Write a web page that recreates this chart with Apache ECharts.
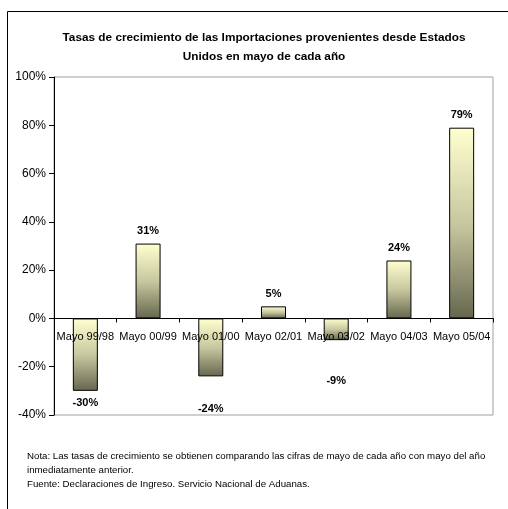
<!DOCTYPE html>
<html>
<head>
    <meta charset="utf-8">
    <title>Importaciones desde Estados Unidos</title>
    <script src="https://cdn.jsdelivr.net/npm/echarts@6/dist/echarts.min.js"></script>
    <style>
        html, body {margin:0;padding:0;background:#fff;}
        #chart {width:508px;height:509px;}
    </style>
</head>
<body>
<div id="chart"></div>
<script>
    // datos
    var categorias = ['Mayo 99/98', 'Mayo 00/99', 'Mayo 01/00', 'Mayo 02/01', 'Mayo 03/02', 'Mayo 04/03', 'Mayo 05/04'];
    var tasas = [-30, 31, -24, 5, -9, 24, 79];
    // desplazamiento vertical de cada etiqueta (como en el original)
    var etiquetaOffset = [2, 0, 22, 0, 30, 0, 0];

    var fuente = 'Liberation Sans, Arial, sans-serif';

    var chart = echarts.init(document.getElementById('chart'));

    var datos = tasas.map(function (v, i) {
        return {
            value: v,
            label: {
                position: v < 0 ? 'bottom' : 'top',
                offset: [0, v < 0 ? etiquetaOffset[i] : -2]
            }
        };
    });

    var option = {
        animation: false,
        backgroundColor: '#fff',
        textStyle: {fontFamily: fuente},
        title: {
            text: 'Tasas de crecimiento de las Importaciones provenientes desde Estados\nUnidos en mayo de cada año',
            left: 259,
            textAlign: 'center',
            top: 23,
            textStyle: {fontSize: 11.8, fontWeight: 'bold', color: '#000', lineHeight: 19, fontFamily: fuente}
        },
        grid: {
            left: 54, right: 15, top: 77, bottom: 94,
            show: true, borderColor: '#a0a0a0', borderWidth: 1
        },
        xAxis: {
            type: 'category',
            data: categorias,
            z: 5,
            axisLine: {onZero: true, lineStyle: {color: '#000', width: 1}},
            axisTick: {show: true, alignWithLabel: false, length: 4, lineStyle: {color: '#000'}},
            // las etiquetas se dibujan junto a la línea del cero, sobre las barras
            axisLabel: {color: '#000', fontSize: 11, margin: -84, interval: 0, fontFamily: fuente}
        },
        yAxis: {
            type: 'value',
            min: -40, max: 100, interval: 20,
            axisLine: {show: true, lineStyle: {color: '#000', width: 1}},
            axisTick: {show: true, length: 5, lineStyle: {color: '#000'}},
            splitLine: {show: false},
            axisLabel: {
                color: '#000', fontSize: 12, margin: 8, fontFamily: fuente,
                formatter: function (v) { return v + '%'; }
            }
        },
        series: [{
            type: 'bar',
            data: datos,
            barWidth: 25,
            itemStyle: {
                borderColor: '#000',
                borderWidth: 1,
                color: new echarts.graphic.LinearGradient(0, 0, 0, 1, [
                    {offset: 0, color: '#ffffd0'},
                    {offset: 0.5, color: '#c8c8a0'},
                    {offset: 1, color: '#66664f'}
                ])
            },
            label: {
                show: true,
                color: '#000',
                fontSize: 11,
                fontWeight: 'bold',
                fontFamily: fuente,
                formatter: function (p) { return p.value + '%'; }
            }
        }],
        graphic: [
            {
                type: 'rect',
                shape: {x: 7.5, y: 11.5, width: 520, height: 520},
                style: {fill: 'none', stroke: '#000', lineWidth: 1},
                silent: true, z: -1
            },
            {
                type: 'text',
                left: 27, top: 449,
                style: {
                    text: 'Nota: Las tasas de crecimiento se obtienen comparando las cifras de mayo de cada año con mayo del año\ninmediatamente anterior.\nFuente: Declaraciones de Ingreso. Servicio Nacional de Aduanas.',
                    fontSize: 9.7,
                    lineHeight: 14,
                    fill: '#000',
                    fontFamily: fuente
                }
            }
        ]
    };

    chart.setOption(option);
</script>
</body>
</html>
